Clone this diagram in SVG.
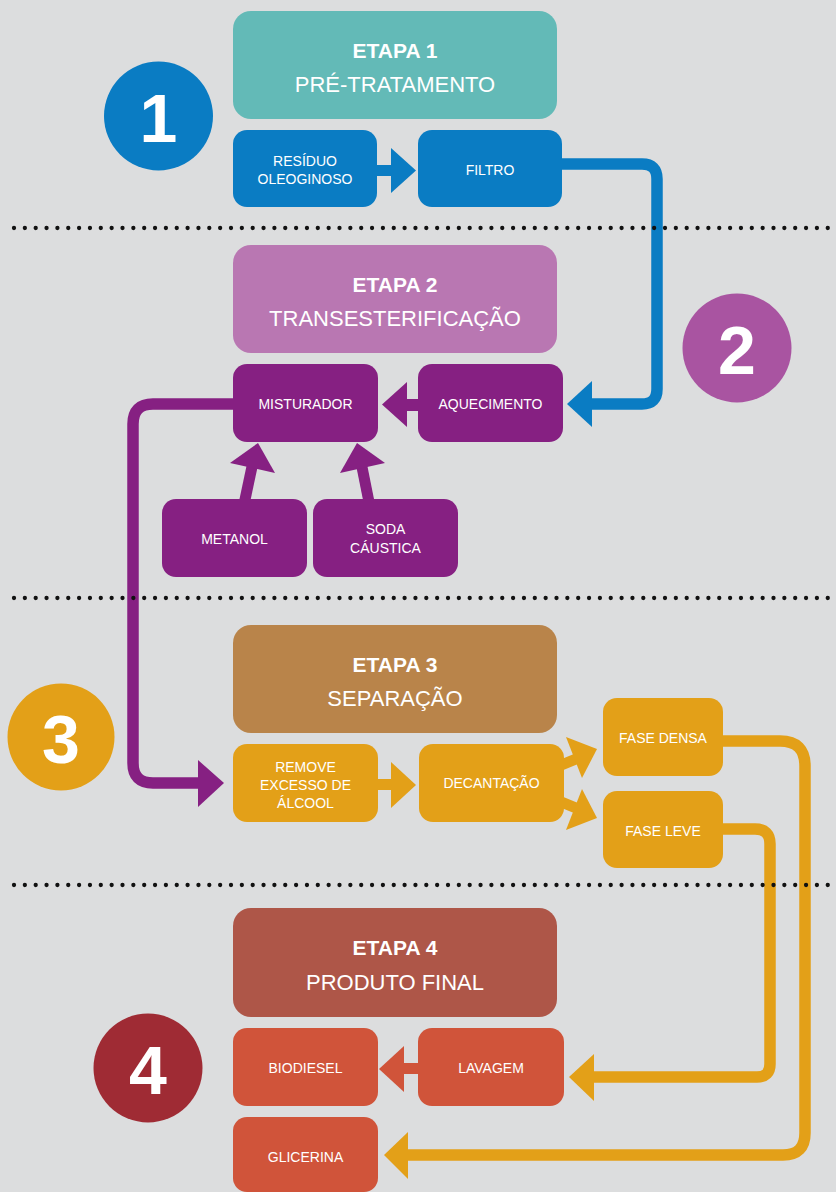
<svg xmlns="http://www.w3.org/2000/svg" width="836" height="1192" viewBox="0 0 836 1192">
<defs>
<style>
.hdr{font-family:"Liberation Sans",Arial,sans-serif;fill:#fff;text-anchor:middle}
.t1{font-size:21px;font-weight:bold}
.t2{font-size:22px}
.lb{font-family:"Liberation Sans",Arial,sans-serif;font-size:14px;fill:#fff;text-anchor:middle}
.num{font-family:"Liberation Sans",Arial,sans-serif;font-size:68px;font-weight:bold;fill:#fff;text-anchor:middle}
.dots{stroke:#111;stroke-width:4.3;stroke-linecap:round;stroke-dasharray:0 10.85;fill:none}
.ln{fill:none;stroke-width:11.5}
</style>
</defs>
<rect width="836" height="1192" fill="#dcddde"/>

<g id="connectors">
<!-- blue filtro -> aquecimento -->
<path class="ln" stroke="#0a7cc3" d="M556 164 H642 Q657 164 657 179 V389 Q657 404 642 404 H588"/>
<polygon fill="#0a7cc3" points="567,404 592,381 592,427"/>
<!-- blue residuo -> filtro -->
<rect x="374" y="165" width="19" height="11" fill="#0a7cc3"/>
<polygon fill="#0a7cc3" points="416,170.5 391,148 391,193"/>
<!-- purple aquecimento -> misturador -->
<rect x="404" y="399" width="16" height="12" fill="#862082"/>
<polygon fill="#862082" points="382,404.5 407,382 407,427"/>
<!-- purple metanol -> misturador -->
<line stroke="#862082" stroke-width="11" x1="244.5" y1="502" x2="253" y2="462"/>
<polygon fill="#862082" points="258,443 230,463 275,473"/>
<!-- purple soda -> misturador -->
<line stroke="#862082" stroke-width="11" x1="369" y1="502" x2="361" y2="462"/>
<polygon fill="#862082" points="357,443 340,473 385,463"/>
<!-- purple misturador -> remove -->
<path class="ln" stroke="#862082" d="M236 404 H153 Q133 404 133 424 V763 Q133 783 153 783 H202"/>
<polygon fill="#862082" points="224,783 198,760 198,807"/>
<!-- orange remove -> decantacao -->
<rect x="374" y="779" width="19" height="11" fill="#e3a018"/>
<polygon fill="#e3a018" points="416,785 391,762 391,808"/>
<!-- orange decantacao -> fase densa / leve -->
<line stroke="#e3a018" stroke-width="11" x1="554" y1="768" x2="576" y2="759"/>
<polygon fill="#e3a018" points="566,737 597,749 582,778"/>
<line stroke="#e3a018" stroke-width="11" x1="554" y1="799" x2="576" y2="808"/>
<polygon fill="#e3a018" points="566,830 597,818 582,789"/>
<!-- orange fase densa -> glicerina -->
<path class="ln" stroke="#e3a018" d="M716 741 H780 Q805 741 805 766 V1133 Q805 1155 783 1155 H404"/>
<polygon fill="#e3a018" points="384,1155 408,1132 408,1179"/>
<!-- orange fase leve -> lavagem -->
<path class="ln" stroke="#e3a018" d="M716 829 H755 Q770 829 770 844 V1064 Q770 1077 757 1077 H590"/>
<polygon fill="#e3a018" points="569,1077 594,1054 594,1101"/>
<!-- red lavagem -> biodiesel -->
<rect x="401" y="1063" width="19" height="11" fill="#d0543a"/>
<polygon fill="#d0543a" points="379,1069 404,1046 404,1092"/>
</g>

<g id="separators">
<line class="dots" x1="14" y1="228" x2="836" y2="228"/>
<line class="dots" x1="14" y1="598" x2="836" y2="598"/>
<line class="dots" x1="14" y1="885" x2="836" y2="885"/>
</g>

<!-- Stage 1 -->
<g id="badge1"><circle cx="158.5" cy="116" r="54.5" fill="#0a7cc3"/><text class="num" x="158.5" y="142">1</text></g>
<g id="etapa1"><rect x="233" y="11" width="324" height="108" rx="18" fill="#63bab7"/>
<text class="hdr t1" x="395" y="58">ETAPA 1</text><text class="hdr t2" x="395" y="92">PRÉ-TRATAMENTO</text></g>
<g id="residuo"><rect x="233" y="130" width="144" height="77" rx="14" fill="#0a7cc3"/>
<text class="lb" x="305" y="166">RESÍDUO</text><text class="lb" x="305" y="184">OLEOGINOSO</text></g>
<g id="filtro"><rect x="418" y="130" width="144" height="77" rx="14" fill="#0a7cc3"/>
<text class="lb" x="490" y="175">FILTRO</text></g>

<!-- Stage 2 -->
<g id="badge2"><circle cx="737" cy="348" r="54.5" fill="#a954a1"/><text class="num" x="737" y="374">2</text></g>
<g id="etapa2"><rect x="233" y="245" width="324" height="108" rx="18" fill="#b977b2"/>
<text class="hdr t1" x="395" y="292">ETAPA 2</text><text class="hdr t2" x="395" y="326">TRANSESTERIFICAÇÃO</text></g>
<g id="misturador"><rect x="233" y="364" width="145" height="78" rx="14" fill="#862082"/>
<text class="lb" x="305.5" y="409">MISTURADOR</text></g>
<g id="aquecimento"><rect x="418" y="364" width="145" height="78" rx="14" fill="#862082"/>
<text class="lb" x="490.5" y="409">AQUECIMENTO</text></g>
<g id="metanol"><rect x="162" y="499" width="145" height="78" rx="14" fill="#862082"/>
<text class="lb" x="234.5" y="544">METANOL</text></g>
<g id="soda"><rect x="313" y="499" width="145" height="78" rx="14" fill="#862082"/>
<text class="lb" x="385.5" y="534">SODA</text><text class="lb" x="385.5" y="553">CÁUSTICA</text></g>

<!-- Stage 3 -->
<g id="badge3"><circle cx="61" cy="737" r="53.5" fill="#e3a018"/><text class="num" x="61" y="763">3</text></g>
<g id="etapa3"><rect x="233" y="625" width="324" height="108" rx="18" fill="#b9844a"/>
<text class="hdr t1" x="395" y="672">ETAPA 3</text><text class="hdr t2" x="395" y="706">SEPARAÇÃO</text></g>
<g id="remove"><rect x="233" y="744" width="145" height="78" rx="14" fill="#e3a018"/>
<text class="lb" x="305.5" y="772">REMOVE</text><text class="lb" x="305.5" y="790">EXCESSO DE</text><text class="lb" x="305.5" y="808">ÁLCOOL</text></g>
<g id="decantacao"><rect x="419" y="744" width="145" height="78" rx="14" fill="#e3a018"/>
<text class="lb" x="491.5" y="788">DECANTAÇÃO</text></g>
<g id="fasedensa"><rect x="603" y="698" width="120" height="78" rx="14" fill="#e3a018"/>
<text class="lb" x="663" y="743">FASE DENSA</text></g>
<g id="faseleve"><rect x="603" y="791" width="120" height="77" rx="14" fill="#e3a018"/>
<text class="lb" x="663" y="836">FASE LEVE</text></g>

<!-- Stage 4 -->
<g id="badge4"><circle cx="148" cy="1068" r="54.5" fill="#9f2b34"/><text class="num" x="148" y="1094">4</text></g>
<g id="etapa4"><rect x="233" y="908" width="324" height="109" rx="18" fill="#ae5648"/>
<text class="hdr t1" x="395" y="955">ETAPA 4</text><text class="hdr t2" x="395" y="990">PRODUTO FINAL</text></g>
<g id="biodiesel"><rect x="233" y="1028" width="145" height="78" rx="14" fill="#d0543a"/>
<text class="lb" x="305.5" y="1073">BIODIESEL</text></g>
<g id="lavagem"><rect x="418" y="1028" width="146" height="78" rx="14" fill="#d0543a"/>
<text class="lb" x="491" y="1073">LAVAGEM</text></g>
<g id="glicerina"><rect x="233" y="1117" width="145" height="75" rx="14" fill="#d0543a"/>
<text class="lb" x="305.5" y="1162">GLICERINA</text></g>
</svg>
